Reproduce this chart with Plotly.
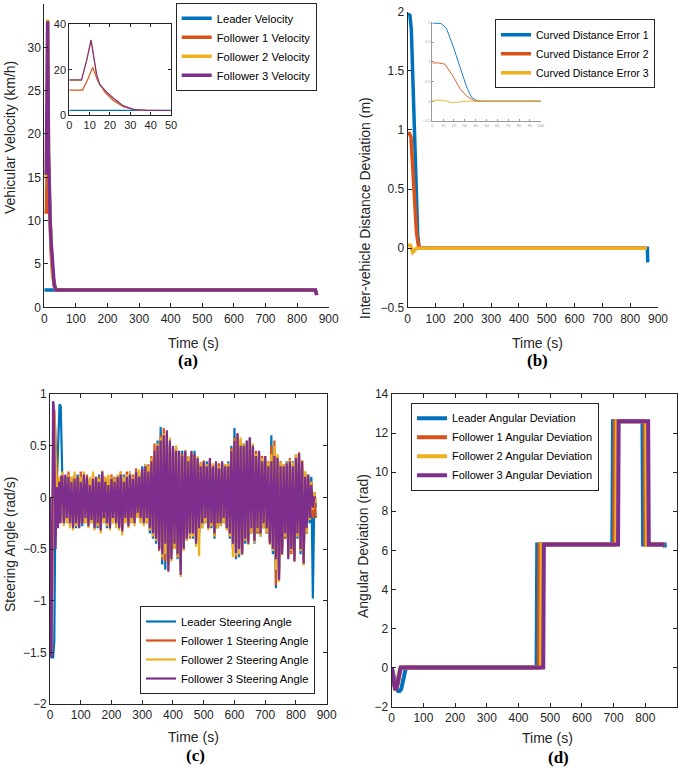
import plotly.graph_objects as go

BLUE, ORANGE, YELLOW, PURPLE = '#0072BD', '#D95319', '#EDB120', '#7E2F8E'
INK = '#262626'
FONT = 'Arial, Liberation Sans, sans-serif'

# ---- (a) vehicular velocity (km/h)
vel_leader_t = [0, 860]
vel_leader = [2.0, 2.0]
vel_f1_t = [0, 6.5, 9, 11.5, 14, 17.5, 21.5, 26.5, 31.5, 36, 40, 858, 862]
vel_f1 = [11, 11, 15.5, 21, 15, 10, 6.5, 3.7, 2.5, 2.0, 2.0, 2.0, 1.5]
vel_f2_t = [0, 6, 8.5, 10.7, 13.4, 15, 18.4, 21.6, 26.6, 31.5, 38, 45, 858, 862]
vel_f2 = [15.3, 15.3, 24, 33.2, 17.5, 13.2, 10.0, 7.4, 3.9, 2.5, 2.0, 2.0, 2.0, 1.4]
vel_f3_t = [0, 6, 8.5, 10.7, 13.4, 15, 18.4, 21.6, 26.6, 31.5, 38, 45, 858, 862]
vel_f3 = [15.5, 15.5, 24, 33, 18, 13.4, 10.1, 7.5, 4.0, 2.5, 2.0, 2.0, 2.0, 1.4]

# ---- (b) curved distance error (m)
err1_t = [0, 8, 13, 19.4, 25.5, 31.7, 36, 41, 45, 862, 863]
err1 = [1.98, 1.97, 1.85, 1.38, 0.87, 0.36, 0.11, 0.01, 0, 0, -0.12]
err2_t = [0, 6, 11.7, 19.4, 25.5, 31.7, 37.8, 42, 860]
err2 = [0.97, 0.97, 0.94, 0.62, 0.32, 0.13, 0.03, 0, 0]
err3_t = [0, 10, 18, 25, 32, 860]
err3 = [0.025, 0.025, -0.035, -0.02, 0, 0]

# ---- (c) steering angle (rad/s): start transient + band envelope (upper at t, lower at t+5)
steer_env_t = list(range(40, 861, 10))
steer_l_t0 = [0, 2, 5, 10, 14, 17, 22, 27, 31, 35, 38]
steer_l_v0 = [0, -1.5, -1.55, -1.55, -1.4, -0.3, 0.1, 0.5, 0.9, 0.88, 0.2]
steer_f1_t0 = [0, 2, 5, 8, 11, 14, 18, 22, 26, 30, 34, 37]
steer_f1_v0 = [0, -1.5, -1.52, -0.8, 0.5, 0.85, 0.6, 0.2, -0.2, 0.15, -0.2, 0.2]
steer_f2_t0 = [0, 2, 5, 8, 11, 14, 18, 22, 26, 30, 34, 37]
steer_f2_v0 = [0, -1.45, -1.5, -0.6, 0.7, 0.8, 0.4, 0.0, -0.25, 0.2, -0.25, 0.15]
steer_f3_t0 = [0, 2, 5, 8, 10, 12, 15, 18, 22, 26, 30, 34, 37]
steer_f3_v0 = [0, -1.4, -1.55, -0.5, 0.93, 0.9, 0.3, -0.5, 0.1, -0.3, 0.15, -0.25, 0.2]

steer_l_up = [0.18, 0.20, 0.22, 0.18, 0.15, 0.22, 0.18, 0.20, 0.15, 0.18,
              0.20, 0.15, 0.22, 0.20, 0.18, 0.15, 0.20, 0.18, 0.15, 0.20,
              0.22, 0.18, 0.25, 0.20, 0.22, 0.25, 0.30, 0.32, 0.28, 0.38,
              0.40, 0.55, 0.68, 0.58, 0.55, 0.50, 0.45, 0.48, 0.40, 0.45,
              0.40, 0.40, 0.38, 0.45, 0.35, 0.32, 0.30, 0.35, 0.32, 0.28,
              0.32, 0.30, 0.32, 0.28, 0.35, 0.50, 0.67, 0.55, 0.48, 0.52,
              0.50, 0.58, 0.45, 0.42, 0.40, 0.38, 0.35, 0.32, 0.60, 0.38,
              0.35, 0.32, 0.28, 0.35, 0.30, 0.35, 0.42, 0.38, 0.30, 0.22,
              0.15, 0.20, 0.05]
steer_l_lo = [-0.22, -0.25, -0.22, -0.28, -0.30, -0.25, -0.28, -0.22, -0.25, -0.20,
              -0.28, -0.30, -0.28, -0.22, -0.30, -0.25, -0.22, -0.28, -0.25, -0.30,
              -0.22, -0.25, -0.22, -0.20, -0.18, -0.22, -0.20, -0.25, -0.35, -0.40,
              -0.45, -0.48, -0.65, -0.70, -0.60, -0.55, -0.50, -0.60, -0.70, -0.45,
              -0.42, -0.38, -0.40, -0.40, -0.35, -0.30, -0.25, -0.28, -0.30, -0.40,
              -0.30, -0.28, -0.25, -0.28, -0.40, -0.50, -0.60, -0.58, -0.50, -0.45,
              -0.40, -0.35, -0.45, -0.35, -0.38, -0.30, -0.35, -0.40, -0.55, -0.88,
              -0.70, -0.50, -0.40, -0.55, -0.52, -0.58, -0.40, -0.55, -0.60, -0.35,
              -0.25, -0.98, -0.10]
steer_f1_up = [0.22, 0.18, 0.25, 0.20, 0.22, 0.18, 0.25, 0.20, 0.22, 0.18,
               0.22, 0.18, 0.20, 0.22, 0.20, 0.18, 0.22, 0.20, 0.18, 0.25,
               0.20, 0.25, 0.20, 0.22, 0.28, 0.22, 0.25, 0.30, 0.32, 0.40,
               0.52, 0.48, 0.60, 0.67, 0.60, 0.50, 0.48, 0.50, 0.42, 0.42,
               0.44, 0.38, 0.42, 0.40, 0.36, 0.34, 0.33, 0.32, 0.35, 0.32,
               0.30, 0.33, 0.30, 0.32, 0.32, 0.48, 0.58, 0.60, 0.56, 0.48,
               0.52, 0.55, 0.50, 0.45, 0.42, 0.40, 0.38, 0.35, 0.50, 0.55,
               0.40, 0.35, 0.32, 0.30, 0.38, 0.33, 0.40, 0.42, 0.36, 0.25,
               0.20, 0.15, 0.05]
steer_f1_lo = [-0.25, -0.22, -0.28, -0.25, -0.28, -0.22, -0.25, -0.25, -0.22, -0.25,
               -0.25, -0.28, -0.30, -0.25, -0.22, -0.28, -0.25, -0.22, -0.28, -0.30,
               -0.25, -0.22, -0.25, -0.22, -0.20, -0.25, -0.22, -0.25, -0.32, -0.38,
               -0.42, -0.52, -0.60, -0.62, -0.65, -0.55, -0.50, -0.58, -0.65, -0.48,
               -0.40, -0.40, -0.38, -0.42, -0.35, -0.28, -0.25, -0.30, -0.28, -0.38,
               -0.30, -0.25, -0.25, -0.30, -0.38, -0.48, -0.58, -0.55, -0.52, -0.42,
               -0.42, -0.35, -0.40, -0.35, -0.36, -0.30, -0.35, -0.42, -0.50, -0.85,
               -0.75, -0.50, -0.40, -0.50, -0.55, -0.60, -0.38, -0.52, -0.65, -0.35,
               -0.22, -0.20, -0.20]
steer_f2_up = [0.25, 0.20, 0.22, 0.20, 0.25, 0.20, 0.20, 0.25, 0.18, 0.20,
               0.25, 0.20, 0.18, 0.26, 0.20, 0.22, 0.20, 0.18, 0.22, 0.25,
               0.20, 0.22, 0.25, 0.20, 0.25, 0.27, 0.25, 0.32, 0.30, 0.38,
               0.45, 0.52, 0.58, 0.62, 0.62, 0.58, 0.48, 0.50, 0.45, 0.40,
               0.46, 0.40, 0.44, 0.42, 0.40, 0.33, 0.36, 0.32, 0.36, 0.33,
               0.34, 0.30, 0.33, 0.32, 0.33, 0.46, 0.56, 0.62, 0.58, 0.52,
               0.55, 0.56, 0.52, 0.42, 0.44, 0.38, 0.40, 0.34, 0.42, 0.50,
               0.42, 0.34, 0.32, 0.34, 0.36, 0.34, 0.42, 0.44, 0.36, 0.25,
               0.22, 0.15, 0.05]
steer_f2_lo = [-0.28, -0.25, -0.30, -0.32, -0.28, -0.30, -0.25, -0.25, -0.30, -0.25,
               -0.32, -0.28, -0.35, -0.25, -0.28, -0.32, -0.25, -0.30, -0.32, -0.37,
               -0.25, -0.30, -0.25, -0.28, -0.20, -0.25, -0.28, -0.25, -0.32, -0.38,
               -0.42, -0.50, -0.58, -0.55, -0.70, -0.62, -0.50, -0.58, -0.77, -0.52,
               -0.42, -0.38, -0.38, -0.48, -0.57, -0.30, -0.25, -0.32, -0.28, -0.38,
               -0.30, -0.28, -0.25, -0.32, -0.38, -0.58, -0.56, -0.55, -0.56, -0.42,
               -0.46, -0.35, -0.44, -0.33, -0.38, -0.30, -0.34, -0.46, -0.52, -0.70,
               -0.82, -0.56, -0.38, -0.58, -0.52, -0.62, -0.38, -0.52, -0.66, -0.34,
               -0.22, -0.12, -0.05]
steer_f3_up = [0.20, 0.22, 0.20, 0.15, 0.18, 0.20, 0.15, 0.22, 0.20, 0.12,
               0.18, 0.20, 0.15, 0.25, 0.15, 0.12, 0.18, 0.15, 0.20, 0.22,
               0.15, 0.20, 0.22, 0.18, 0.25, 0.20, 0.28, 0.30, 0.25, 0.35,
               0.45, 0.50, 0.55, 0.60, 0.65, 0.55, 0.50, 0.45, 0.45, 0.40,
               0.45, 0.35, 0.45, 0.42, 0.38, 0.30, 0.35, 0.30, 0.38, 0.30,
               0.35, 0.28, 0.35, 0.30, 0.30, 0.45, 0.55, 0.62, 0.50, 0.50,
               0.55, 0.58, 0.50, 0.40, 0.45, 0.35, 0.40, 0.30, 0.35, 0.40,
               0.38, 0.30, 0.30, 0.33, 0.35, 0.30, 0.38, 0.43, 0.35, 0.20,
               0.22, 0.12, 0.00]
steer_f3_lo = [-0.25, -0.20, -0.25, -0.30, -0.25, -0.30, -0.25, -0.20, -0.28, -0.22,
               -0.30, -0.25, -0.32, -0.20, -0.25, -0.30, -0.20, -0.25, -0.30, -0.33,
               -0.20, -0.28, -0.20, -0.25, -0.15, -0.20, -0.25, -0.20, -0.30, -0.35,
               -0.40, -0.50, -0.55, -0.45, -0.72, -0.60, -0.45, -0.55, -0.75, -0.50,
               -0.40, -0.35, -0.35, -0.45, -0.30, -0.25, -0.20, -0.30, -0.25, -0.35,
               -0.25, -0.25, -0.20, -0.30, -0.35, -0.45, -0.54, -0.50, -0.55, -0.40,
               -0.45, -0.30, -0.42, -0.30, -0.35, -0.25, -0.30, -0.45, -0.50, -0.60,
               -0.80, -0.55, -0.35, -0.60, -0.50, -0.62, -0.35, -0.50, -0.64, -0.30,
               -0.20, -0.10, 0.00]

# ---- (d) angular deviation (rad)
ang_l_t = [0, 5, 10, 15, 20, 25, 30, 35, 40, 45, 457, 459, 696, 698, 791, 793, 861, 862]
ang_l = [0, -0.3, -0.8, -1.1, -1.2, -1.2, -1.1, -0.7, -0.2, 0, 0, 6.3, 6.3, 12.6, 12.6, 6.3, 6.3, 6.15]
ang_f1_t = [0, 5, 10, 15, 20, 25, 30, 35, 464, 466, 702, 704, 798, 800, 860]
ang_f1 = [0, -0.5, -1.0, -1.05, -0.8, -0.3, 0, 0, 0, 6.3, 6.3, 12.6, 12.6, 6.3, 6.3]
ang_f2_t = [0, 5, 10, 15, 20, 25, 30, 471, 473, 708, 710, 803, 805, 860]
ang_f2 = [0, -0.6, -1.05, -1.0, -0.6, -0.1, 0, 0, 6.3, 6.3, 12.6, 12.6, 6.3, 6.3]
ang_f3_t = [0, 5, 10, 15, 20, 25, 28, 478, 480, 714, 716, 809, 811, 860]
ang_f3 = [0, -0.7, -1.05, -1.05, -0.7, -0.15, 0, 0, 6.3, 6.3, 12.6, 12.6, 6.3, 6.3]


def zigzag(t0, v0, up, lo):
    xs, ys = list(t0), list(v0)
    for t, u, l in zip(steer_env_t, up, lo):
        xs += [t, t + 5]
        ys += [u, l]
    return xs, ys


fig = go.Figure()


def line(x, y, color, width, xa, ya, name=None, legend=None):
    fig.add_trace(go.Scatter(
        x=x, y=y, mode='lines', line=dict(color=color, width=width),
        name=name, showlegend=name is not None, legend=legend,
        xaxis=xa, yaxis=ya, hoverinfo='skip'))


# (a) main + inset
vel = [(vel_leader_t, vel_leader, BLUE, 'Leader Velocity'),
       (vel_f1_t, vel_f1, ORANGE, 'Follower 1 Velocity'),
       (vel_f2_t, vel_f2, YELLOW, 'Follower 2 Velocity'),
       (vel_f3_t, vel_f3, PURPLE, 'Follower 3 Velocity')]
for t, v, c, n in vel:
    line(t, v, c, 3.5, 'x', 'y', n, 'legend')
for t, v, c, n in vel:
    line(t, v, c, 1.2, 'x2', 'y2')

# (b) main + inset
err = [(err1_t, err1, BLUE, 'Curved Distance Error 1'),
       (err2_t, err2, ORANGE, 'Curved Distance Error 2'),
       (err3_t, err3, YELLOW, 'Curved Distance Error 3')]
for t, v, c, n in err:
    line(t, v, c, 3.5, 'x3', 'y3', n, 'legend2')
for t, v, c, n in err:
    line(t, v, c, 0.9, 'x4', 'y4')

# (c)
steer = [(steer_l_t0, steer_l_v0, steer_l_up, steer_l_lo, BLUE, 'Leader Steering Angle'),
         (steer_f1_t0, steer_f1_v0, steer_f1_up, steer_f1_lo, ORANGE, 'Follower 1 Steering Angle'),
         (steer_f2_t0, steer_f2_v0, steer_f2_up, steer_f2_lo, YELLOW, 'Follower 2 Steering Angle'),
         (steer_f3_t0, steer_f3_v0, steer_f3_up, steer_f3_lo, PURPLE, 'Follower 3 Steering Angle')]
for t0, v0, up, lo, c, n in steer:
    xs, ys = zigzag(t0, v0, up, lo)
    line(xs, ys, c, 2.2, 'x5', 'y5', n, 'legend3')

# (d)
ang = [(ang_l_t, ang_l, BLUE, 'Leader Angular Deviation'),
       (ang_f1_t, ang_f1, ORANGE, 'Follower 1 Angular Deviation'),
       (ang_f2_t, ang_f2, YELLOW, 'Follower 2 Angular Deviation'),
       (ang_f3_t, ang_f3, PURPLE, 'Follower 3 Angular Deviation')]
for t, v, c, n in ang:
    line(t, v, c, 4, 'x6', 'y6', n, 'legend4')


def ax(domain, rng, dtick, anchor, mirror=False, size=12, color=INK, ticklen=4):
    return dict(domain=domain, range=rng, dtick=dtick, anchor=anchor, automargin=False,
                showline=True, linecolor=color, linewidth=1, mirror=mirror,
                ticks='inside', ticklen=ticklen, tickcolor=color, tickwidth=1,
                showgrid=False, zeroline=False,
                tickfont=dict(family=FONT, size=size, color=color))


W, H = 685, 768
px = lambda a, b: [a / W, b / W]
py = lambda top, bot: [1 - bot / H, 1 - top / H]

# legends anchored at their right edge
leg = lambda x, y, s: dict(x=x / W, y=1 - y / H, xanchor='right', yanchor='top',
                           bgcolor='white', bordercolor=INK, borderwidth=1,
                           font=dict(family=FONT, size=s, color='black'),
                           tracegroupgap=0, itemwidth=30)

fig.update_layout(
    width=W, height=H, margin=dict(l=0, r=0, t=0, b=0, autoexpand=False),
    paper_bgcolor='white', plot_bgcolor='rgba(0,0,0,0)',
    xaxis=ax(px(44.3, 328.7), [0, 900], 100, 'y'),
    yaxis=ax(py(4, 307.3), [0, 35], 5, 'x'),
    xaxis2=ax(px(69.3, 171), [0, 50], 10, 'y2', mirror='ticks', size=11, ticklen=3),
    yaxis2=ax(py(24.3, 115), [0, 40], 20, 'x2', mirror='ticks', size=11, ticklen=3),
    xaxis3=ax(px(407.7, 658), [0, 900], 100, 'y3'),
    yaxis3=ax(py(11.7, 307.3), [-0.5, 2], 0.5, 'x3'),
    xaxis4=ax(px(432.3, 540.7), [0, 100], 10, 'y4', size=4, color='#9a9a9a', ticklen=2),
    yaxis4=ax(py(22.3, 121), [-0.5, 2], 0.5, 'x4', size=4, color='#9a9a9a', ticklen=2),
    xaxis5=ax(px(50, 326.7), [0, 900], 100, 'y5', mirror='ticks'),
    yaxis5=ax(py(394, 704), [-2, 1], 0.5, 'x5', mirror='ticks'),
    xaxis6=ax(px(391.7, 677), [0, 900], 100, 'y6', mirror='ticks'),
    yaxis6=ax(py(394, 706.7), [-2, 14], 2, 'x6', mirror='ticks'),
    legend=leg(316.7, 2.7, 11.2),
    legend2=leg(655, 19.3, 10.5),
    legend3=leg(315, 606, 11.2),
    legend4=leg(599, 402.7, 11),
)

notes = [
    ('Time (s)', 193, 343, 0), ('Time (s)', 537, 343, 0),
    ('Time (s)', 193, 737, 0), ('Time (s)', 547, 738, 0),
    ('Vehicular Velocity (km/h)', 10, 138, -90),
    ('Inter-vehicle Distance Deviation (m)', 365, 208, -90),
    ('Steering Angle (rad/s)', 10, 545, -90),
    ('Angular Deviation (rad)', 363, 546, -90),
]
for text, x, y, ang_ in notes:
    fig.add_annotation(text=text, x=x / W, y=1 - y / H, xref='paper', yref='paper',
                       showarrow=False, textangle=ang_, xanchor='center', yanchor='middle',
                       font=dict(family=FONT, size=14, color=INK))
for text, x, y in [('(a)', 188, 360), ('(b)', 537, 360), ('(c)', 195, 755), ('(d)', 558, 757)]:
    fig.add_annotation(text='<b>%s</b>' % text, x=x / W, y=1 - y / H, xref='paper', yref='paper',
                       showarrow=False, xanchor='center', yanchor='middle',
                       font=dict(family='Liberation Serif, Times New Roman, serif', size=17, color='black'))

# page body margin off so the 685x768 figure fills the window exactly
fig.write_html("out.html", config={'displayModeBar': False},
               post_script="document.body.style.margin='0';")
